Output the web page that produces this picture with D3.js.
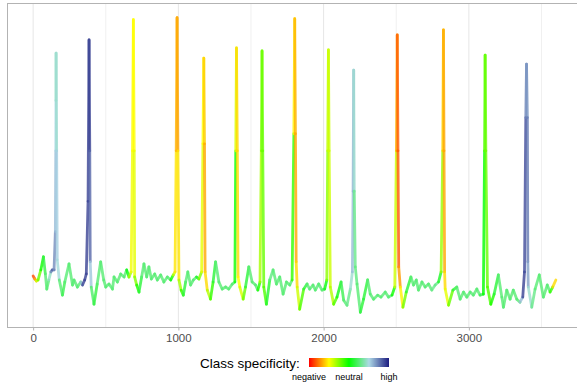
<!DOCTYPE html>
<html>
<head>
<meta charset="utf-8">
<script src="https://cdn.jsdelivr.net/npm/d3@7"></script>
<style>
  body { margin: 0; background: #fff; }
  svg { display: block; font-family: "Liberation Sans", Arial, sans-serif; }
</style>
</head>
<body>
<script>
// sample index of the ECG trace
const sampleIdx = [
  0, 12, 22, 34, 53, 71, 84, 94, 108, 122, 132, 144,
  153, 156, 157, 158, 162, 166, 180, 202, 218, 247, 271, 282, 305, 328, 340, 355, 366,
  378, 385, 390, 393, 400, 419, 441, 465, 486, 500, 522, 546, 557, 580, 603, 626, 644, 660, 675,
  684, 690, 696, 699, 713, 729, 747, 763, 782, 797, 814, 837, 855, 878, 900, 924, 947, 965, 977,
  985, 991, 997, 1004, 1019, 1034, 1050, 1065, 1084, 1103, 1125, 1141, 1160,
  1169, 1175, 1180, 1184, 1199, 1221, 1239, 1256, 1279, 1302, 1325, 1347, 1371, 1389,
  1395, 1400, 1406, 1411, 1423, 1446, 1462, 1485, 1508, 1531, 1547, 1562,
  1571, 1576, 1581, 1588, 1606, 1629, 1652, 1675, 1698, 1721, 1744, 1767, 1783,
  1795, 1801, 1806, 1811, 1818, 1835, 1863, 1886, 1904, 1927, 1943, 1966, 1989, 2007, 2022,
  2028, 2033, 2038, 2046, 2069, 2092, 2120, 2138, 2161, 2184, 2198,
  2203, 2207, 2211, 2218, 2230, 2253, 2275, 2303, 2321, 2344, 2372, 2395, 2424, 2447, 2471, 2490,
  2501, 2507, 2512, 2517, 2528, 2546, 2569, 2601, 2619, 2638, 2653, 2677, 2699, 2722, 2745, 2768, 2791, 2809,
  2820, 2825, 2829, 2833, 2837, 2860, 2890, 2917, 2940, 2963, 2986, 3009, 3031, 3055, 3077, 3100,
  3108, 3112, 3117, 3128, 3151, 3174, 3203, 3227, 3238, 3261, 3284, 3306, 3330, 3352, 3371, 3383,
  3392, 3397, 3403, 3406, 3409, 3433, 3456, 3485, 3513, 3540, 3559, 3577, 3599
];

// amplitude of the signal
const amplitude = [
  0.01, -0.02, -0.04, -0.03, 0.07, 0.20, 0.03, -0.12, -0.03, 0.05, 0.07, 0.07,
  0.45, 1.25, 1.75, 2.22, 1.25, 0.17, -0.03, -0.18, -0.05, 0.13, -0.08, -0.03, -0.10, -0.05, -0.08, -0.03, 0.03,
  0.75, 2.35, 1.25, 0.15, -0.10, -0.27, -0.07, 0.15, -0.03, -0.10, -0.07, -0.12, 0.00, -0.05, 0.03, 0.00, 0.07, 0.00, 0.05,
  1.25, 2.55, 1.25, 0.00, -0.08, -0.15, 0.00, 0.13, 0.00, 0.10, -0.02, 0.03, -0.03, 0.02, -0.05, 0.00, -0.03, 0.02, 0.05,
  1.25, 2.57, 1.25, -0.03, -0.13, -0.18, -0.05, 0.05, -0.08, -0.03, 0.00, -0.02, 0.05,
  1.32, 2.17, 1.32, 0.05, -0.13, -0.22, -0.05, 0.15, -0.05, -0.12, -0.10, -0.12, -0.07, -0.05,
  1.25, 2.27, 1.25, 0.00, -0.10, -0.22, -0.10, 0.10, -0.05, -0.08, -0.13, -0.05,
  1.25, 2.24, 1.25, -0.10, -0.27, -0.03, 0.07, -0.07, 0.00, -0.17, -0.05, -0.08, -0.03,
  1.42, 2.56, 1.42, 0.15, -0.10, -0.32, -0.12, -0.07, -0.12, -0.08, -0.13, -0.07, -0.13, -0.12, -0.03,
  1.25, 2.25, 1.25, -0.10, -0.27, -0.20, -0.05, -0.23, -0.28, -0.12, 0.05,
  0.85, 2.05, 0.85, 0.10, -0.07, -0.35, -0.22, -0.03, -0.17, -0.22, -0.18, -0.20, -0.15, -0.20, -0.18, -0.10,
  1.25, 2.40, 1.25, 0.10, -0.10, -0.30, -0.15, 0.00, -0.08, -0.03, -0.13, -0.05, -0.10, -0.07, -0.13, -0.08, -0.05, 0.05,
  1.25, 2.45, 1.25, 0.05, -0.12, -0.28, -0.13, -0.10, -0.22, -0.15, -0.20, -0.15, -0.18, -0.12, -0.18, -0.17,
  1.25, 2.20, 1.25, -0.10, -0.27, -0.17, 0.02, -0.20, -0.30, -0.13, -0.22, -0.13, -0.22, -0.25, -0.20, 0.05,
  1.58, 2.11, 1.58, 0.15, -0.10, -0.30, -0.12, 0.02, -0.20, -0.08, -0.15, -0.10, -0.03
];

// class specificity of each point, -1 negative .. 0 neutral .. 1 high
const specificity = [
  -0.9, -0.8, -0.5, -0.3, -0.1, 0.05, 0.25, 0.25, 0.25, 0.6, 0.85, 0.8,
  0.6, 0.55, 0.45, 0.4, 0.5, 0.55, 0.4, 0.1, 0.25, 0.25, 0.25, 0.25, 0.25, 0.25, 0.9, 0.9, 0.9,
  0.9, 0.9, 0.9, 0.7, 0.4, 0.05, 0.25, 0.25, 0.25, 0.25, 0.25, 0.25, 0.25, 0.25, 0.25, 0.25, 0.25, -0.2, -0.45,
  -0.5, -0.5, -0.5, -0.4, -0.1, 0.0, 0.25, 0.25, 0.25, 0.25, 0.25, 0.25, 0.25, 0.25, 0.25, 0.25, 0.25, -0.3, -0.5,
  -0.6, -0.7, -0.65, -0.45, -0.2, 0.0, 0.25, 0.25, 0.25, 0.25, 0.25, -0.1, -0.4, -0.5,
  -0.5, -0.7, -0.65, -0.5, -0.2, 0.0, 0.25, 0.25, 0.25, 0.25, 0.25, 0.25, 0.25, -0.3,
  -0.55, -0.6, -0.55, -0.45, -0.4, 0.0, 0.25, 0.25, 0.25, 0.25, -0.35, -0.3,
  -0.2, -0.2, -0.2, -0.1, 0.3, 0.25, 0.25, 0.25, 0.25, 0.25, 0.25, 0.25, -0.45,
  -0.6, -0.7, -0.65, -0.5, -0.3, 0.0, 0.25, 0.25, 0.25, 0.25, 0.25, 0.25, 0.25, -0.2, -0.35,
  -0.4, -0.4, -0.4, -0.3, 0.0, 0.1, 0.25, 0.25, 0.35, 0.55, 0.6,
  0.6, 0.3, 0.3, 0.25, 0.25, 0.0, 0.25, 0.25, 0.25, 0.25, 0.25, 0.25, 0.25, 0.25, -0.3, -0.5,
  -0.8, -0.85, -0.8, -0.6, -0.45, 0.0, 0.25, 0.25, 0.25, 0.25, 0.25, 0.25, 0.25, 0.25, 0.35, 0.25, -0.1, -0.5,
  -0.65, -0.7, -0.65, -0.5, -0.4, 0.0, 0.25, 0.25, 0.25, 0.25, 0.25, 0.25, 0.25, 0.25, 0.1, -0.1,
  -0.2, -0.2, -0.2, -0.1, 0.0, 0.25, 0.25, 0.25, 0.25, 0.25, 0.25, 0.25, 0.25, 0.9, 0.9, 0.85,
  0.6, 0.75, 0.75, 0.55, 0.35, 0.25, 0.25, 0.25, 0.25, 0.25, -0.45, -0.7, -0.95
];

const xTicks = [0, 1000, 2000, 3000];
const xMinor = [500, 1500, 2500, 3500];
const legendStops = ["#ff0000", "#ffff00", "#00ff00", "#add8e6", "#1c1c80"];
const legendLabels = ["negative", "neutral", "high"];

const width = 577, height = 390;
const panel = { left: 7, top: 3, right: 582, bottom: 327 };

const svg = d3.select('body').append('svg')
  .attr('width', width)
  .attr('height', height);

const points = sampleIdx.map((t, i) => ({ t: t, a: amplitude[i], s: specificity[i] }));

// ggplot-like 5% expansion
const xExt = d3.extent(sampleIdx), yExt = d3.extent(amplitude);
const xPad = (xExt[1] - xExt[0]) * 0.05, yPad = (yExt[1] - yExt[0]) * 0.05;
const x = d3.scaleLinear().domain([xExt[0] - xPad, xExt[1] + xPad]).range([panel.left, panel.right]);
const y = d3.scaleLinear().domain([yExt[0] - yPad, yExt[1] + yPad]).range([panel.bottom, panel.top]);

const color = d3.scaleLinear()
  .domain([-1, -0.5, 0, 0.5, 1])
  .range(legendStops)
  .interpolate(d3.interpolateRgb);

// grid
svg.append('g').selectAll('line')
  .data(xMinor).enter().append('line')
  .attr('x1', d => x(d)).attr('x2', d => x(d))
  .attr('y1', panel.top).attr('y2', panel.bottom)
  .attr('stroke', '#f0f0f0').attr('stroke-width', 1);

svg.append('g').selectAll('line')
  .data(xTicks).enter().append('line')
  .attr('x1', d => x(d)).attr('x2', d => x(d))
  .attr('y1', panel.top).attr('y2', panel.bottom)
  .attr('stroke', '#e6e6e6').attr('stroke-width', 1);

// signal, one segment per pair of points
const segs = d3.pairs(points);
svg.append('g').selectAll('line')
  .data(segs).enter().append('line')
  .attr('x1', d => x(d[0].t)).attr('y1', d => y(d[0].a))
  .attr('x2', d => x(d[1].t)).attr('y2', d => y(d[1].a))
  .attr('stroke', d => color((d[0].s + d[1].s) / 2))
  .attr('stroke-width', 2.8)
  .attr('stroke-linecap', 'round')
  .attr('stroke-opacity', 0.8);

// panel border
svg.append('rect')
  .attr('x', panel.left + 0.5).attr('y', panel.top + 0.5)
  .attr('width', panel.right - panel.left).attr('height', panel.bottom - panel.top)
  .attr('fill', 'none').attr('stroke', '#b3b3b3').attr('stroke-width', 1);

// x axis
const xAxis = svg.append('g')
  .attr('transform', `translate(0,${panel.bottom + 0.5})`)
  .call(d3.axisBottom(x).tickValues(xTicks).tickSize(3).tickPadding(3).tickFormat(d3.format('d')));
xAxis.select('.domain').remove();
xAxis.selectAll('line').attr('stroke', '#b3b3b3');
xAxis.selectAll('text').attr('fill', '#4d4d4d').style('font-size', '11.5px');

// legend
const lg = svg.append('g');
lg.append('text')
  .attr('x', 200).attr('y', 367.5)
  .attr('fill', '#000').style('font-size', '13.5px')
  .text('Class specificity:');

const defs = svg.append('defs');
const grad = defs.append('linearGradient').attr('id', 'specGrad');
grad.selectAll('stop').data(legendStops).enter().append('stop')
  .attr('offset', (d, i) => (i / (legendStops.length - 1) * 100) + '%')
  .attr('stop-color', d => d);

const barScale = d3.scaleLinear().domain([-1, 1]).range([309, 389]);
lg.append('rect')
  .attr('x', barScale(-1)).attr('y', 358)
  .attr('width', barScale(1) - barScale(-1)).attr('height', 9)
  .attr('fill', 'url(#specGrad)');

lg.selectAll('text.lab')
  .data(legendLabels).enter().append('text')
  .attr('class', 'lab')
  .attr('x', (d, i) => barScale(-1 + i))
  .attr('y', 380)
  .attr('text-anchor', 'middle')
  .attr('fill', '#000').style('font-size', '9px')
  .text(d => d);
</script>
</body>
</html>
